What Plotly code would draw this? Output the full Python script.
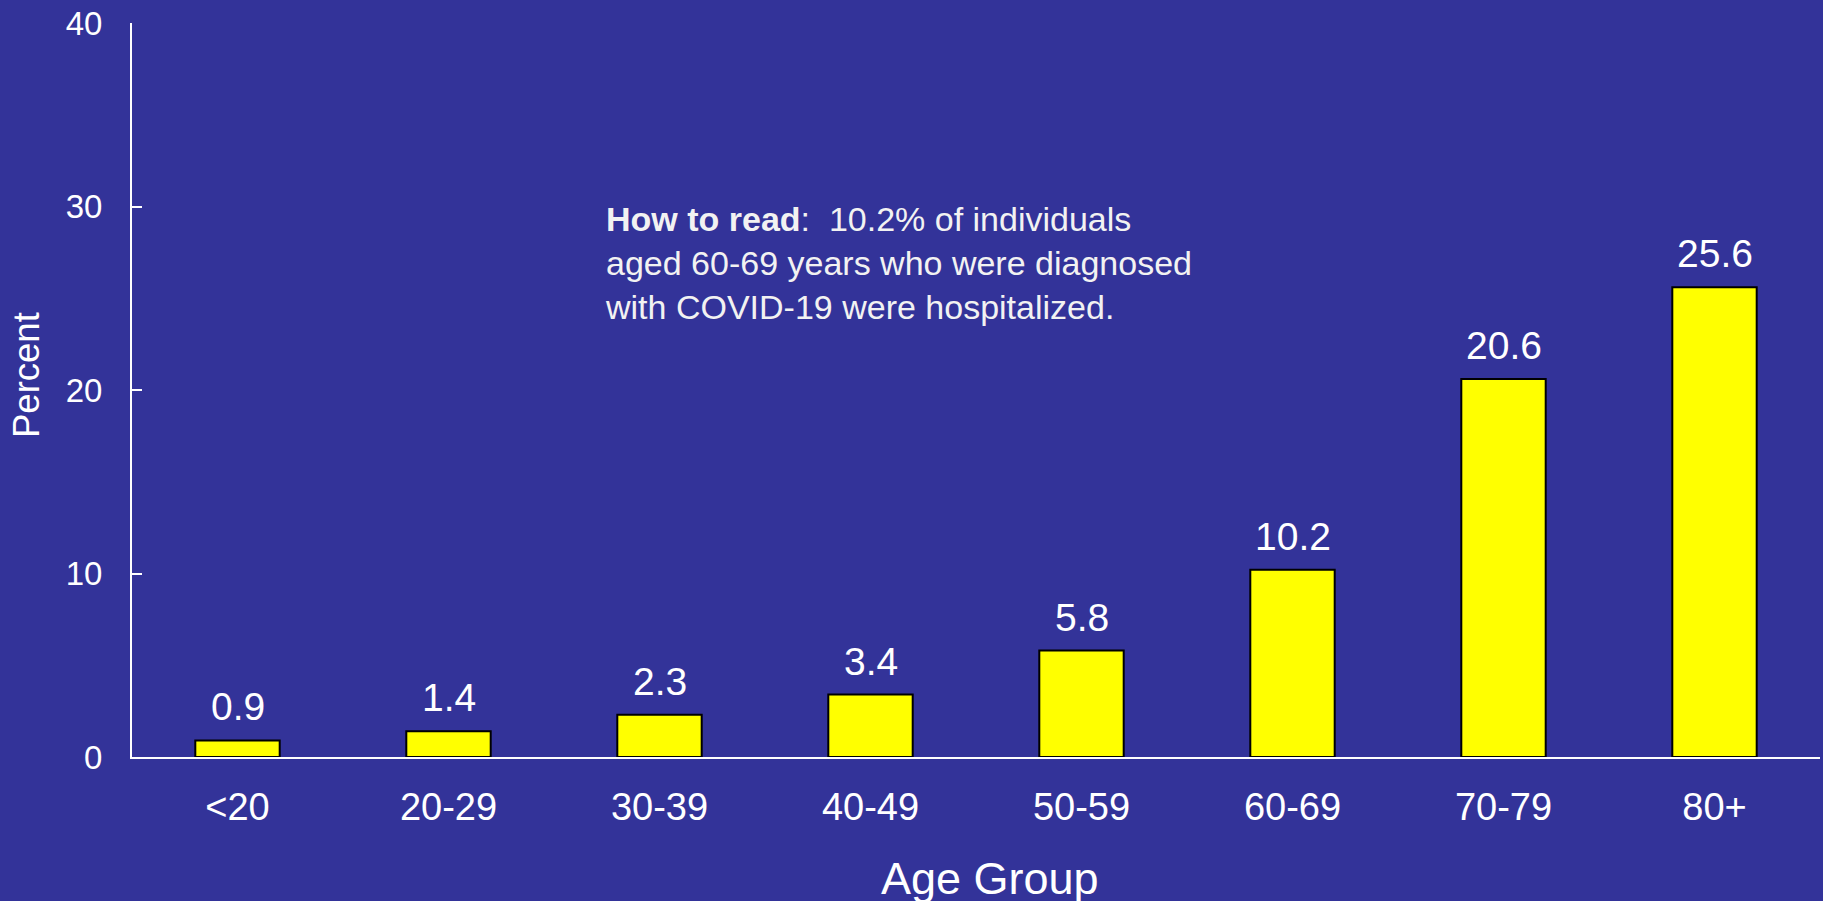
import plotly.graph_objects as go

categories = ["<20", "20-29", "30-39", "40-49", "50-59", "60-69", "70-79", "80+"]
percent = [0.9, 1.4, 2.3, 3.4, 5.8, 10.2, 20.6, 25.6]
value_labels = ["0.9", "1.4", "2.3", "3.4", "5.8", "10.2", "20.6", "25.6"]
y_ticks = [0, 10, 20, 30, 40]
note_text = ("<b>How to read</b>:  10.2% of individuals<br>"
             "aged 60-69 years who were diagnosed<br>"
             "with COVID-19 were hospitalized.")

BG = "#333399"
FONT = "Arial, Liberation Sans, sans-serif"

fig = go.Figure()
fig.add_trace(go.Bar(
    x=list(range(len(categories))), y=percent, width=0.4,
    marker=dict(color="#FFFF00", line=dict(color="black", width=2)),
    hoverinfo="skip",
))

for i, (v, t) in enumerate(zip(percent, value_labels)):
    fig.add_annotation(x=i, y=v, text=t, showarrow=False, xanchor="center",
                       yanchor="bottom", yshift=10,
                       font=dict(family=FONT, size=39, color="white"))

H = 734.0
W = 1688.0
# y axis title
fig.add_annotation(xref="paper", yref="paper", x=0, y=(757 - 375) / H, xshift=-106,
                   text="Percent", textangle=-90, showarrow=False,
                   xanchor="center", yanchor="middle",
                   font=dict(family=FONT, size=36.5, color="white"))
# x axis title
fig.add_annotation(xref="paper", yref="paper", x=(990 - 132) / W, y=0, yshift=-94,
                   text="Age Group", showarrow=False,
                   xanchor="center", yanchor="top",
                   font=dict(family=FONT, size=45, color="white"))

# How to read note
fig.add_annotation(xref="paper", yref="paper",
                   x=(603 - 132) / W, y=(757 - 263) / H,
                   text=note_text, showarrow=False, xanchor="left",
                   yanchor="middle", align="left",
                   font=dict(family=FONT, size=34, color="#f2f2f2"))

fig.update_layout(
    width=1823, height=901,
    paper_bgcolor=BG, plot_bgcolor=BG,
    margin=dict(l=132, r=3, t=23, b=144),
    showlegend=False,
    font=dict(family=FONT, color="white"),
)
fig.update_xaxes(
    range=[-0.5, 7.5], tickmode="array",
    tickvals=list(range(len(categories))), ticktext=categories,
    showline=True, linecolor="white", linewidth=2, showgrid=False,
    zeroline=False, ticks="", tickfont=dict(family=FONT, size=38, color="white"),
    ticklabelstandoff=15,
)
fig.update_yaxes(
    range=[0, 40], tickmode="array", tickvals=y_ticks,
    showline=True, linecolor="white", linewidth=2, showgrid=False,
    zeroline=False, ticks="inside", ticklen=10, tickwidth=2, tickcolor="white",
    tickfont=dict(family=FONT, size=33, color="white"),
    ticklabelstandoff=21,
)

fig.write_html(
    "out.html",
    config={"displayModeBar": False},
    post_script="document.body.style.margin='0';document.body.style.overflow='hidden';",
)
